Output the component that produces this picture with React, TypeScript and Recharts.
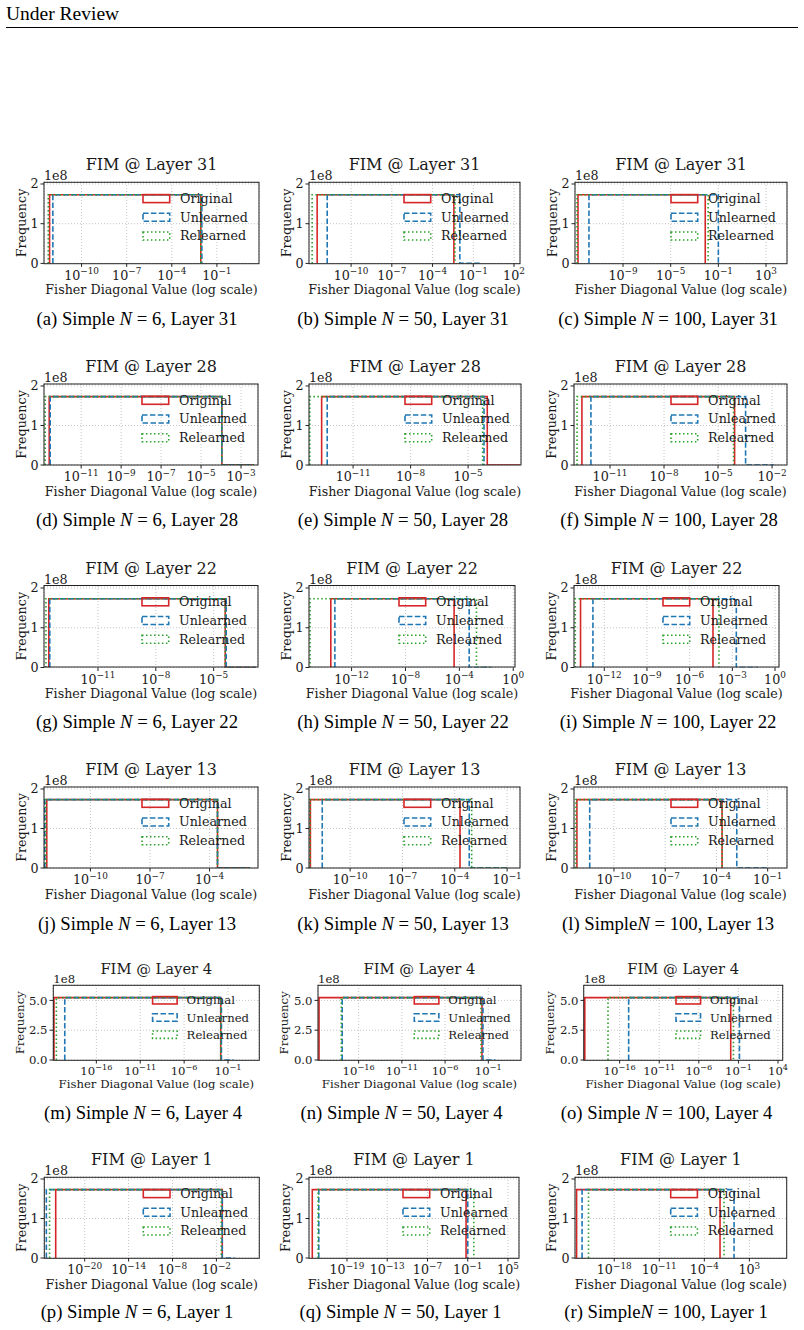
import React from 'react';
import { LineChart, Line, XAxis, YAxis, CartesianGrid } from 'recharts';

// ---------------------------------------------------------------------------
// Histogram data (log10 of bin edges) for the 18 FIM panels, row-major a..r
// ---------------------------------------------------------------------------

const PANEL_LETTERS = ['a', 'b', 'c', 'd', 'e', 'f', 'g', 'h', 'i', 'j', 'k', 'l', 'm', 'n', 'o', 'p', 'q', 'r'];
const LAYERS = [31, 31, 31, 28, 28, 28, 22, 22, 22, 13, 13, 13, 4, 4, 4, 1, 1, 1];
const N_VALUES = [6, 50, 100, 6, 50, 100, 6, 50, 100, 6, 50, 100, 6, 50, 100, 6, 50, 100];

// x-axis range and tick exponents
const X_MIN_EXP = [-12.5, -13.1, -13.03, -12.86, -13.3, -13.0, -13.8, -15.16, -14.13, -12.34, -12.36, -12.34, -20.94, -20.7, -20.5, -25.56, -24.66, -24.1];
const X_MAX_EXP = [1.8, 2.44, 4.76, -2.15, -2.24, -1.17, -2.7, 0.13, 0.28, -1.56, -0.26, 0.13, 2.53, 2.78, 4.63, 3.82, 6.64, 8.8];
const X_TICK_EXPS = [
  [-10, -7, -4, -1], [-10, -7, -4, -1, 2], [-9, -5, -1, 3],
  [-11, -9, -7, -5, -3], [-11, -8, -5], [-11, -8, -5, -2],
  [-11, -8, -5], [-12, -8, -4, 0], [-12, -9, -6, -3, 0],
  [-10, -7, -4], [-10, -7, -4, -1], [-10, -7, -4, -1],
  [-16, -11, -6, -1], [-16, -11, -6, -1], [-16, -11, -6, -1, 4],
  [-20, -14, -8, -2], [-19, -13, -7, -1, 5], [-18, -11, -4, 3],
];

// bin count of the dominant bin, y-axis top and y ticks
const PEAK_COUNT = [1.73e8, 1.73e8, 1.73e8, 1.73e8, 1.73e8, 1.73e8, 1.73e8, 1.73e8, 1.73e8, 1.73e8, 1.73e8, 1.73e8, 5.23e8, 5.23e8, 5.23e8, 1.73e8, 1.73e8, 1.73e8];
const Y_MAX = [2.05e8, 2.05e8, 2.05e8, 2.05e8, 2.05e8, 2.05e8, 2.05e8, 2.05e8, 2.05e8, 2.05e8, 2.05e8, 2.05e8, 6.29e8, 6.29e8, 6.29e8, 2.05e8, 2.05e8, 2.05e8];
const Y_TICKS_SMALL = [0, 1e8, 2e8];
const Y_TICKS_LARGE = [0, 2.5e8, 5e8];

// Original (lower edge, upper edge, end of empty tail bins)
const ORIG_LO = [-12.13, -12.5, -12.78, -12.6, -12.64, -12.56, -13.55, -13.54, -13.67, -12.2, -12.28, -12.17, -20.83, -20.58, -20.4, -23.96, -24.17, -23.85];
const ORIG_HI = [-2.07, -2.43, -2.1, -3.96, -4.0, -4.08, -4.4, -4.39, -4.36, -3.6, -3.7, -3.67, -1.83, -1.73, -1.97, -1.2, -1.25, -1.56];
const ORIG_END = [-2.07, -2.43, -2.1, -2.35, -2.3, -4.08, -2.8, -4.39, -4.36, -1.97, -3.7, -3.67, -1.83, -1.73, -1.97, -1.2, -1.25, -1.56];
// Unlearned
const UNL_LO = [-11.91, -11.76, -11.86, -12.55, -12.35, -12.06, -13.5, -13.24, -12.8, -12.3, -11.6, -11.42, -19.6, -17.9, -14.86, -25.24, -23.2, -23.0];
const UNL_HI = [-2.0, -1.99, -1.0, -3.96, -4.17, -3.47, -4.35, -3.27, -2.72, -3.6, -3.17, -2.81, -1.75, -1.62, -0.87, -1.2, -1.0, 0.62];
const UNL_END = [-2.0, -0.44, -1.0, -2.35, -4.17, -1.9, -2.8, -1.6, -1.2, -1.97, -1.0, -1.0, -0.38, -0.2, -0.87, 0.5, -1.0, 0.62];
// Relearned
const REL_LO = [-12.22, -12.87, -12.86, -12.8, -13.26, -12.83, -13.7, -15.08, -14.04, -12.25, -12.3, -12.23, -20.56, -18.0, -17.47, -24.8, -23.3, -22.0];
const REL_HI = [-2.07, -2.35, -1.86, -3.96, -4.24, -4.14, -4.4, -2.73, -3.94, -3.6, -3.03, -3.67, -1.83, -1.85, -1.63, -1.34, -0.1, -0.94];
const REL_END = [-2.07, -2.35, -1.86, -2.35, -4.24, -4.14, -2.8, -1.6, -3.94, -1.97, -1.0, -3.67, -1.83, -1.85, -1.63, -1.34, -0.1, -0.94];

const SERIES = [
  { name: 'Original', color: '#d62728', dash: undefined, lo: ORIG_LO, hi: ORIG_HI, end: ORIG_END },
  { name: 'Unlearned', color: '#1f77b4', dash: '5.5 2.4', lo: UNL_LO, hi: UNL_HI, end: UNL_END },
  { name: 'Relearned', color: '#2ca02c', dash: '1.5 2.5', lo: REL_LO, hi: REL_HI, end: REL_END },
];

// ---------------------------------------------------------------------------
// Page layout
// ---------------------------------------------------------------------------

const ROW_TOP = [182.3, 384, 585.5, 787, 985.3, 1177.3];
const ROW_BOTTOM = [263.7, 465, 667, 868, 1060.3, 1258.3];
const ROW_SCALE = [1, 1, 1, 1, 0.92, 1];
const CAPTION_BASE = [324.5, 526, 728, 929.5, 1118.5, 1318];
const FRAME_LEFT = [44, 309, 575, 44, 309, 574, 44, 309, 574, 44, 309, 574, 53.3, 318, 583.7, 44.3, 309, 575];
const FRAME_RIGHT = [259, 520, 787, 258, 521, 787, 258, 515, 779, 258, 520, 787, 259.3, 521, 782.7, 259.3, 519, 786.7];
const CAPTION_X = [137, 403, 668, 137, 403, 669, 137, 403, 668, 137, 403, 668, 143, 401.5, 666.5, 137, 400.5, 666];
const TIGHT_CAPTION = ['l', 'r'];

const MPL_FONT = '"DejaVu Serif", serif';
const TEX_FONT = '"Liberation Serif", "Times New Roman", serif';

function stepOutline(lo: number, hi: number, end: number, peak: number) {
  const pts = [
    { x: 10 ** lo, y: 0 },
    { x: 10 ** lo, y: peak },
    { x: 10 ** hi, y: peak },
    { x: 10 ** hi, y: 0 },
  ];
  if (end > hi) pts.push({ x: 10 ** end, y: 0 });
  return pts;
}

// "10^n" tick label with a raised exponent
function LogTick(props: any) {
  const { x, y, payload, fs } = props;
  const e = Math.round(Math.log10(payload.value));
  const exp = (e < 0 ? '\u2212' : '') + Math.abs(e);
  return (
    <text x={x} y={y + fs * 0.85} textAnchor="middle" fontFamily={MPL_FONT} fontSize={fs} fill="#1a1a1a">
      <tspan>10</tspan>
      <tspan dy={-fs * 0.45} fontSize={fs * 0.7}>{exp}</tspan>
    </text>
  );
}

function FimPanel({ i }: { i: number }) {
  const row = Math.floor(i / 3);
  const s = ROW_SCALE[row];
  const fs = 12.7 * s;
  const left = FRAME_LEFT[i];
  const top = ROW_TOP[row];
  const w = FRAME_RIGHT[i] - left;
  const h = ROW_BOTTOM[row] - top;
  const big = PEAK_COUNT[i] > 3e8;
  const yTicks = big ? Y_TICKS_LARGE : Y_TICKS_SMALL;

  return (
    <div style={{ position: 'absolute', left: left - 45, top: top - 10 }}>
      <LineChart width={w + 55} height={h + 40} margin={{ top: 10, right: 10, left: 0, bottom: 0 }}>
        <CartesianGrid stroke="#b5b5b5" strokeWidth={0.8} strokeDasharray="1 2" />
        <XAxis
          dataKey="x"
          type="number"
          scale="log"
          domain={[10 ** X_MIN_EXP[i], 10 ** X_MAX_EXP[i]]}
          allowDataOverflow
          ticks={X_TICK_EXPS[i].map((e) => 10 ** e)}
          tick={<LogTick fs={fs} />}
          tickSize={3.5}
          tickLine={{ stroke: '#222' }}
          axisLine={false}
          height={30}
          interval={0}
        />
        <YAxis
          type="number"
          domain={[0, Y_MAX[i]]}
          allowDataOverflow
          ticks={yTicks}
          tickFormatter={(v: number) => (big ? (v / 1e8).toFixed(1) : String(v / 1e8))}
          tick={{ fontSize: fs, fontFamily: MPL_FONT, fill: '#1a1a1a' }}
          tickSize={3.5}
          tickLine={{ stroke: '#222' }}
          axisLine={false}
          width={45}
          interval={0}
        />
        {SERIES.map((sr) => (
          <Line
            key={sr.name}
            data={stepOutline(sr.lo[i], sr.hi[i], sr.end[i], PEAK_COUNT[i])}
            dataKey="y"
            type="linear"
            stroke={sr.color}
            strokeWidth={1.6}
            strokeDasharray={sr.dash}
            dot={false}
            activeDot={false}
            isAnimationActive={false}
          />
        ))}
      </LineChart>
    </div>
  );
}

function PanelDecor({ i }: { i: number }) {
  const row = Math.floor(i / 3);
  const s = ROW_SCALE[row];
  const fs = 12.7 * s;
  const left = FRAME_LEFT[i];
  const right = FRAME_RIGHT[i];
  const top = ROW_TOP[row];
  const bottom = ROW_BOTTOM[row];
  const cx = (left + right) / 2;
  const cy = (top + bottom) / 2;
  const big = PEAK_COUNT[i] > 3e8;
  const yLabelX = left - (big ? 29.5 : 18.5);
  const handleX = right - 116 * s;
  const tight = TIGHT_CAPTION.includes(PANEL_LETTERS[i]);

  return (
    <g>
      <rect x={left} y={top} width={right - left} height={bottom - top} fill="none" stroke="#222" strokeWidth={1} />
      <text x={cx} y={top - 12 * s} textAnchor="middle" fontFamily={MPL_FONT} fontSize={16 * s} fill="#1a1a1a">
        FIM @ Layer {LAYERS[i]}
      </text>
      <text x={left} y={top - 2} fontFamily={MPL_FONT} fontSize={fs} fill="#1a1a1a">1e8</text>
      <text
        x={yLabelX}
        y={cy}
        transform={`rotate(-90 ${yLabelX} ${cy})`}
        textAnchor="middle"
        fontFamily={MPL_FONT}
        fontSize={fs}
        fill="#1a1a1a"
      >
        Frequency
      </text>
      <text x={cx} y={bottom + 30.5 * s} textAnchor="middle" fontFamily={MPL_FONT} fontSize={fs} fill="#1a1a1a">
        Fisher Diagonal Value (log scale)
      </text>
      {SERIES.map((sr, k) => {
        const ry = top + 16.3 * s + k * 18.7 * s;
        return (
          <g key={sr.name}>
            <rect
              x={handleX}
              y={ry - 4 * s}
              width={26.7 * s}
              height={8 * s}
              fill="none"
              stroke={sr.color}
              strokeWidth={1.6}
              strokeDasharray={sr.dash}
            />
            <text x={handleX + 37 * s} y={ry + 4.4 * s} fontFamily={MPL_FONT} fontSize={fs} fill="#1a1a1a">
              {sr.name}
            </text>
          </g>
        );
      })}
      <text x={CAPTION_X[i]} y={CAPTION_BASE[row]} textAnchor="middle" fontFamily={TEX_FONT} fontSize={18.7} fill="#000">
        <tspan>({PANEL_LETTERS[i]}) Simple{tight ? '' : ' '}</tspan>
        <tspan fontStyle="italic">N</tspan>
        <tspan> = {N_VALUES[i]}, Layer {LAYERS[i]}</tspan>
      </text>
    </g>
  );
}

export default function App() {
  return (
    <div style={{ position: 'absolute', left: 0, top: 0, width: 804, height: 1330, background: '#fff', overflow: 'hidden' }}>
      {PANEL_LETTERS.map((_, i) => (
        <FimPanel key={i} i={i} />
      ))}
      <svg width={804} height={1330} style={{ position: 'absolute', left: 0, top: 0, pointerEvents: 'none' }}>
        <text x={6} y={20} fontFamily={TEX_FONT} fontSize={19.5} fill="#000">Under Review</text>
        <line x1={6} x2={798} y1={27.5} y2={27.5} stroke="#000" strokeWidth={1} />
        {PANEL_LETTERS.map((_, i) => (
          <PanelDecor key={i} i={i} />
        ))}
      </svg>
    </div>
  );
}
